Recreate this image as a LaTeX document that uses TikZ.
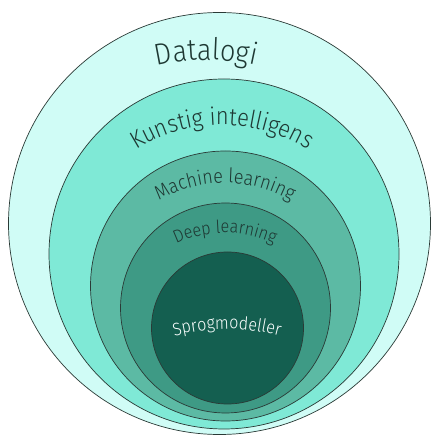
\documentclass[tikz,border=0pt]{standalone}
\usepackage{fontspec}
\setmainfont{Fira Sans}[UprightFont=* Light, FakeStretch=0.9]
\usepackage{tikz}
\usetikzlibrary{calc,decorations.text}

\definecolor{cslight}{HTML}{D0FCF6}
\definecolor{csaqua}{HTML}{7FE9D6}
\definecolor{csmid}{HTML}{5CBAA4}
\definecolor{csdeep}{HTML}{3E9A85}
\definecolor{csdark}{HTML}{145F50}
\definecolor{csline}{HTML}{2A3A36}
\definecolor{cstext}{HTML}{1E3833}

\tikzset{
	field/.style={circle, draw=csline, line width=0.7pt, inner sep=0pt},
	arclabel/.style={decorate, decoration={text along path, text align=center, text color=cstext}}
}

\begin{document}
\begin{tikzpicture}[x=1pt, y=1pt]
					\useasboundingbox (0, 0) rectangle (431, 436);

					% the fields, from the outside in
					\node[field, fill=cslight, minimum size=422pt] at (219.5, 212.5) (datalogi) {};
					\node[field, fill=csaqua, minimum size=350pt] at (224, 182) (ki) {};
					\node[field, fill=csmid, minimum size=270pt] at (225.5, 150) (ml) {};
					\node[field, fill=csdeep, minimum size=210pt] at (225.5, 128) (dl) {};
					\node[field, fill=csdark, minimum size=152pt] at (227.5, 108) (sprog) {};

					% centres of the text arcs
					\coordinate (datalogi-c) at (206, 156);
					\coordinate (ki-c) at (222, 151);
					\coordinate (ml-c) at (225, 123);
					\coordinate (dl-c) at (225, 88);
					\coordinate (sprog-c) at (227, -93);

					\path[arclabel, decoration={text={|\fontsize{30}{33}\selectfont|Datalogi}}]
						($(datalogi-c) + (150:220pt)$) arc[start angle=150, end angle=30, radius=220pt];
					\path[arclabel, decoration={text={|\fontsize{24.5}{28}\selectfont|Kunstig intelligens}}]
						($(ki-c) + (170:160pt)$) arc[start angle=170, end angle=10, radius=160pt];
					\path[arclabel, decoration={text={|\fontsize{20}{23}\selectfont|Machine learning}}]
						($(ml-c) + (170:130pt)$) arc[start angle=170, end angle=10, radius=130pt];
					\path[arclabel, decoration={text={|\fontsize{18}{21}\selectfont|Deep learning}}]
						($(dl-c) + (170:115pt)$) arc[start angle=170, end angle=10, radius=115pt];
					\path[arclabel, decoration={text color=white!90!cslight, text={|\fontsize{18}{21}\selectfont|Sprogmodeller}}]
						($(sprog-c) + (130:200pt)$) arc[start angle=130, end angle=50, radius=200pt];
				\end{tikzpicture}
\end{document}
